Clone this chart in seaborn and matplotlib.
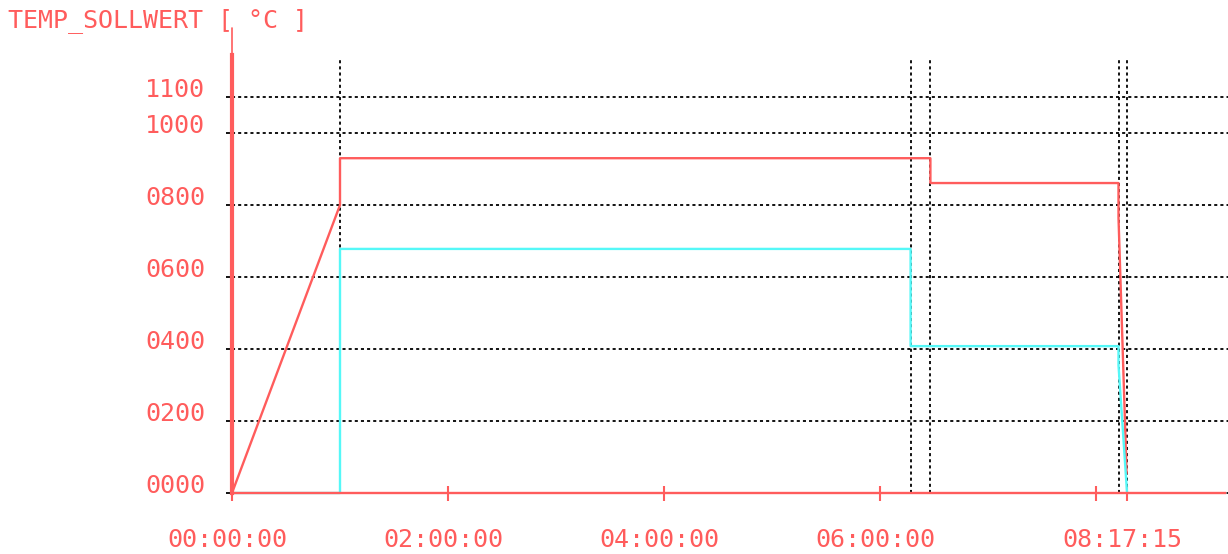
import matplotlib
matplotlib.use("Agg")
import matplotlib.pyplot as plt
import matplotlib.transforms as mtransforms
import numpy as np
import pandas as pd
import seaborn as sns

# set point profile (red) and second channel (cyan), times as hh:mm:ss
red_times = ["00:00:00", "01:00:00", "01:00:00", "06:28:00", "06:28:00",
             "08:12:30", "08:12:30", "08:17:00"]
red_values = [0, 800, 930, 930, 861, 861, 765, 55]

cyan_times = ["00:00:00", "01:00:00", "01:00:00", "06:17:00", "06:17:00",
              "08:12:30", "08:12:30", "08:17:15"]
cyan_values = [0, 0, 678, 678, 408, 408, 355, 0]

# segment boundaries (vertical dotted markers)
event_times = ["01:00:00", "06:17:00", "06:28:00", "08:12:30", "08:17:15"]

ytick_values = [0, 200, 400, 600, 800, 1000, 1100]
ytick_labels = ["0000", "0200", "0400", "0600", "0800", "1000", "1100"]
xtick_times = ["00:00:00", "02:00:00", "04:00:00", "06:00:00", "08:17:15"]
xtick_minor = ["08:00:00"]

RED = "#ff5c5c"
CYAN = "#55f8f8"
FS = 18


def to_hours(times):
    return pd.to_timedelta(pd.Series(times)).dt.total_seconds().values / 3600.0


df_red = pd.DataFrame({"t": to_hours(red_times), "v": red_values})
df_cyan = pd.DataFrame({"t": to_hours(cyan_times), "v": cyan_values})
events = to_hours(event_times)

sns.set_style("white")
plt.rcParams["font.family"] = ["DejaVu Sans Mono", "DejaVu Sans"]

fig = plt.figure(figsize=(12.28, 5.54), dpi=100)
ax = fig.add_axes([232 / 1228, 54 / 554, 996 / 1228, 472 / 554])

ax.set_xlim(0, 996 / 108)
ax.set_ylim(-7 / 0.36, 465 / 0.36)

# grid
ax.yaxis.grid(True, color="black", linestyle=(0, (1.7, 1.7)), lw=1.3, zorder=1)
ax.xaxis.grid(False)
ax.vlines(events, 0, 1203, colors="black", linestyles=(0, (1.7, 1.7)),
          lw=1.3, zorder=1)

sns.lineplot(data=df_red, x="t", y="v", sort=False, estimator=None,
             color=RED, lw=1.7, ax=ax, zorder=3)
sns.lineplot(data=df_cyan, x="t", y="v", sort=False, estimator=None,
             color=CYAN, lw=1.7, ax=ax, zorder=4)

# axes look
for side in ["top", "right"]:
    ax.spines[side].set_visible(False)
ax.spines["left"].set_position(("data", 0))
ax.spines["bottom"].set_position(("data", 0))
ax.spines["left"].set_color(RED)
ax.spines["left"].set_linewidth(3.0)
ax.spines["left"].set_bounds(0, 1217)
ax.spines["bottom"].set_color(RED)
ax.spines["bottom"].set_linewidth(1.7)
ax.spines["bottom"].set_bounds(0, 993 / 108)
ax.spines["left"].set_zorder(5)
ax.spines["bottom"].set_zorder(5)
ax.axvline(0, ymin=(1217 + 7 / 0.36) / (472 / 0.36), ymax=1,
           color=RED, lw=1.2, clip_on=False)

ax.set_yticks(ytick_values)
ax.set_yticklabels(ytick_labels)
ax.tick_params(axis="y", left=True, colors="black", length=4.3, width=1.3,
               direction="out", pad=15, labelsize=FS, labelcolor=RED)
for lab in ax.get_yticklabels():
    lab.set_va("baseline")

ax.set_xticks(to_hours(xtick_times))
ax.set_xticklabels(xtick_times)
ax.set_xticks(to_hours(xtick_minor), minor=True)
ax.tick_params(axis="x", which="both", bottom=True, colors=RED, length=10.8,
               width=1.5, direction="inout", pad=20, labelsize=FS,
               labelcolor=RED)
shift = mtransforms.ScaledTranslation(-5 / 100, 0, fig.dpi_scale_trans)
for lab in ax.get_xticklabels():
    lab.set_transform(lab.get_transform() + shift)
ax.set_xlabel("")
ax.set_ylabel("")

fig.text(8 / 1228, 1 - 27 / 554, "TEMP_SOLLWERT [ °C ]", color=RED,
         fontsize=FS, va="baseline", ha="left")

fig.savefig("out.png", dpi=100, facecolor="white")
